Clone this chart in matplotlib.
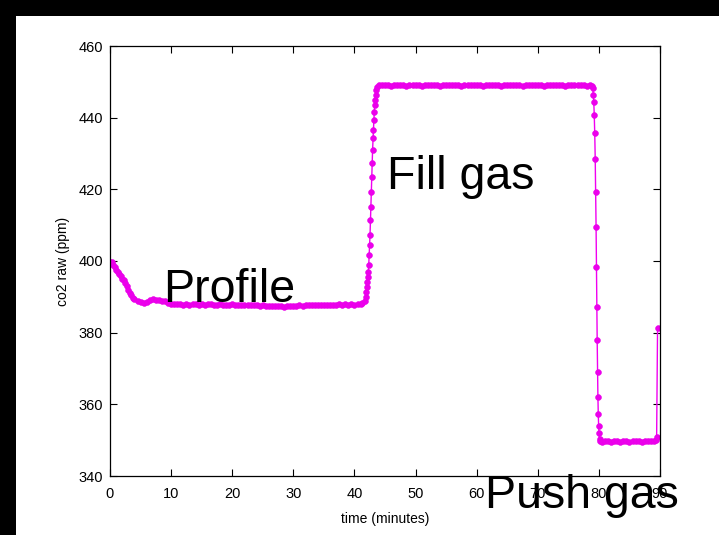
import matplotlib
matplotlib.use("Agg")
import matplotlib.pyplot as plt
from matplotlib.patches import Rectangle

plt.rcParams['font.family'] = ['Liberation Sans', 'DejaVu Sans']

# ---- data (time in minutes, CO2 raw in ppm) ----
profile_t = [0.0, 0.25, 0.5, 0.75, 1.0, 1.25, 1.5, 1.75, 2.0, 2.25, 2.5, 2.75, 3.0, 3.25,
             3.5, 3.75, 4.0, 4.5, 5.0, 5.5, 6.0, 6.5, 7.0, 7.5, 8.0, 8.5, 9.0, 9.5, 10.0, 10.5,
             11.0, 11.5, 12.0, 12.5, 13.0, 13.5, 14.0, 14.5, 15.0, 15.5, 16.0, 16.5, 17.0, 17.5,
             18.0, 18.5, 19.0, 19.5, 20.0, 20.5, 21.0, 21.5, 22.0, 22.5, 23.0, 23.5, 24.0, 24.5,
             25.0, 25.5, 26.0, 26.5, 27.0, 27.5, 28.0, 28.5, 29.0, 29.5, 30.0, 30.5, 31.0, 31.5,
             32.0, 32.5, 33.0, 33.5, 34.0, 34.5, 35.0, 35.5, 36.0, 36.5, 37.0, 37.5, 38.0, 38.5,
             39.0, 39.5, 40.0, 40.5, 41.0, 41.3]
profile_v = [399.8, 399.6, 399.0, 398.3, 397.6, 397.0, 396.3, 395.7, 395.1, 394.6, 393.9, 393.0,
             392.0, 391.1, 390.4, 389.8, 389.3, 388.8, 388.5, 388.3, 388.6, 389.1, 389.4, 389.2,
             389.0, 388.8, 388.7, 388.4, 388.1, 387.9,
             387.9, 388.0, 387.8, 387.9, 387.8, 388.0, 387.9, 387.8, 387.9, 387.8, 387.9, 388.0,
             387.8, 387.7, 387.9, 387.8, 387.7, 387.8, 387.9, 387.8, 387.7, 387.8, 387.7, 387.8,
             387.6, 387.7, 387.6, 387.5, 387.6, 387.5, 387.4, 387.5, 387.4, 387.5, 387.4, 387.3,
             387.4, 387.5, 387.4, 387.5, 387.6, 387.5, 387.6, 387.7, 387.6, 387.7, 387.6, 387.7,
             387.8, 387.7, 387.8, 387.7, 387.8, 387.9, 387.8, 387.9, 387.8, 387.9, 387.8, 387.9,
             388.0, 388.3]

rise_t = [41.7, 41.85, 41.95, 42.05, 42.13, 42.2, 42.27, 42.34, 42.41, 42.48, 42.55, 42.62,
          42.69, 42.76, 42.83, 42.9, 42.97, 43.04, 43.11, 43.18, 43.25, 43.32, 43.4, 43.48,
          43.58, 43.75, 43.95]
rise_v = [388.8, 390.0, 391.4, 392.8, 394.2, 395.6, 397.0, 398.9, 401.7, 404.5, 407.3, 411.4,
          415.2, 419.3, 423.5, 427.3, 431.0, 434.2, 436.6, 439.4, 441.7, 443.6, 444.9, 446.3,
          447.6, 448.6, 449.0]

fill_t = [44.5, 45.0, 45.5, 46.0, 46.5, 47.0, 47.5, 48.0, 48.5, 49.0, 49.5, 50.0, 50.5, 51.0,
          51.5, 52.0, 52.5, 53.0, 53.5, 54.0, 54.5, 55.0, 55.5, 56.0, 56.5, 57.0, 57.5, 58.0,
          58.5, 59.0, 59.5, 60.0, 60.5, 61.0, 61.5, 62.0, 62.5, 63.0, 63.5, 64.0, 64.5, 65.0,
          65.5, 66.0, 66.5, 67.0, 67.5, 68.0, 68.5, 69.0, 69.5, 70.0, 70.5, 71.0, 71.5, 72.0,
          72.5, 73.0, 73.5, 74.0, 74.5, 75.0, 75.5, 76.0, 76.5, 77.0, 77.5, 78.0, 78.5, 78.8]
fill_v = [449.1, 449.0, 449.2, 448.9, 449.1, 449.0, 449.2, 449.1, 448.9, 449.0, 449.1, 449.2,
          449.0, 448.9, 449.1, 449.0, 449.2, 449.1, 449.0, 448.9, 449.1, 449.0, 449.2, 449.1,
          449.0, 449.1, 448.9, 449.0, 449.2, 449.1, 449.0, 449.1, 449.0, 448.9, 449.1, 449.2,
          449.0, 449.1, 449.0, 448.9, 449.1, 449.0, 449.2, 449.1, 449.0, 449.1, 448.9, 449.0,
          449.1, 449.2, 449.0, 449.1, 449.0, 448.9, 449.1, 449.0, 449.2, 449.1, 449.0, 449.1,
          448.9, 449.0, 449.1, 449.2, 449.0, 449.1, 449.0, 448.9, 449.0, 448.9]

drop_t = [79.0, 79.08, 79.16, 79.24, 79.32, 79.4, 79.47, 79.54, 79.6, 79.66, 79.72, 79.78,
          79.84, 79.9, 79.96, 80.02, 80.1, 80.25]
drop_v = [448.4, 446.3, 444.5, 440.8, 435.7, 428.5, 419.3, 409.5, 398.3, 387.3, 378.0, 369.0,
          362.1, 357.3, 354.0, 352.0, 350.3, 349.7]

push_t = [80.5, 81.0, 81.5, 82.0, 82.5, 83.0, 83.5, 84.0, 84.5, 85.0, 85.5, 86.0, 86.5, 87.0,
          87.5, 88.0, 88.5, 89.0, 89.3, 89.45, 89.6]
push_v = [349.6, 349.8, 349.7, 349.6, 349.8, 349.7, 349.6, 349.7, 349.8, 349.6, 349.7, 349.8,
          349.7, 349.6, 349.7, 349.8, 349.7, 349.8, 350.0, 351.0, 381.3]

x_ticks = [0, 10, 20, 30, 40, 50, 60, 70, 80, 90]
y_ticks = [340, 360, 380, 400, 420, 440, 460]

annotations = [("Profile", 8.75, 388.6), ("Fill gas", 45.3, 420.0), ("Push gas", 61.3, 331.0)]

time = profile_t + rise_t + fill_t + drop_t + push_t
co2 = profile_v + rise_v + fill_v + drop_v + push_v

# ---- figure ----
W, H = 719, 535
fig = plt.figure(figsize=(W / 100, H / 100), dpi=100)
fig.patch.set_facecolor('black')
fig.patches.append(Rectangle((16 / W, 0), 1 - 16 / W, 1 - 16 / H, transform=fig.transFigure,
                             facecolor='white', edgecolor='none', zorder=-10))

ax = fig.add_axes([110 / W, (H - 476) / H, 550 / W, 430 / H])
ax.set_zorder(1)
ax.set_facecolor('white')

ax.plot(time, co2, color='#f000f0', lw=1.0, marker='o', ms=4.2, mec='#e800e8', mew=0.4,
        mfc='#ec00ec')

ax.set_xlim(0, 90)
ax.set_ylim(340, 460)
ax.set_xticks(x_ticks)
ax.set_yticks(y_ticks)
ax.set_xticklabels([str(v) for v in x_ticks])
ax.set_yticklabels([str(v) for v in y_ticks])
ax.tick_params(direction='in', length=5, width=0.8, top=True, right=True,
               labelsize=10.5, pad=5, colors='black')
ax.tick_params(axis='x', pad=8)
for s in ax.spines.values():
    s.set_linewidth(0.9)
    s.set_color('black')

ax.set_xlabel('time (minutes)', fontsize=10, labelpad=8)
ax.set_ylabel('co2 raw (ppm)', fontsize=10, labelpad=6)

for label, tx, ty in annotations:
    ax.text(tx, ty, label, fontsize=33.5, color='black', va='baseline', ha='left',
            zorder=5, clip_on=False)

fig.savefig('out.png', dpi=100, facecolor=fig.get_facecolor())
